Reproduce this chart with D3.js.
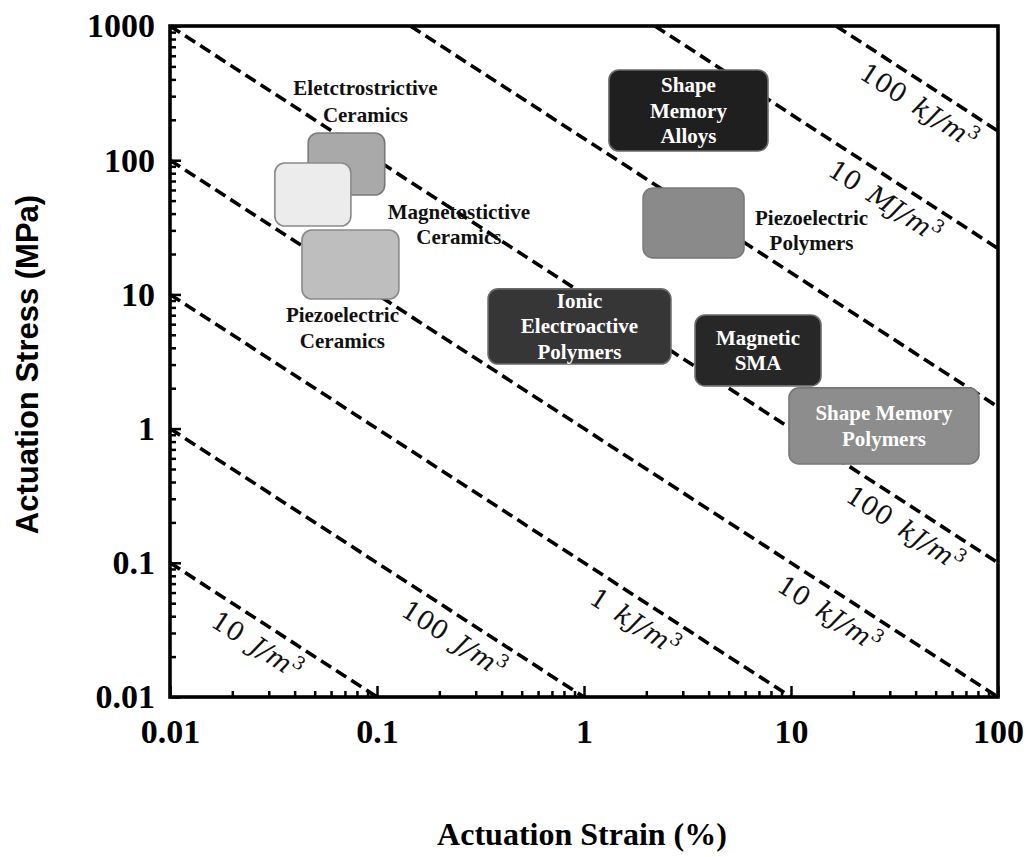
<!DOCTYPE html>
<html lang="en">
<head>
<meta charset="UTF-8">
<title>Actuation stress vs strain</title>
<script src="https://cdn.jsdelivr.net/npm/d3@7"></script>
<style>
  body { margin: 0; background: #fff; }
  svg { display: block; }
</style>
</head>
<body>
<script>
// Constant energy-density lines: stress (MPa) * strain (%) = C
const lineConst = [0.001, 0.01, 0.1, 1, 10, 145, 2200, 16500];
const lineNum   = ["10", "100", "1", "10", "100", null, "10", "100"];
const lineUnit  = ["J", "J", "kJ", "kJ", "kJ", null, "MJ", "kJ"];
const lineLabelAt = [0.030, 0.269, 2.01, 17.5, 40.6, null, 32.5, 47.4]; // strain where label sits

// Material regions (strain %, stress MPa)
const matNames  = ["Eletctrostrictive|Ceramics", "Magnetostictive|Ceramics", "Piezoelectric|Ceramics",
                   "Shape|Memory|Alloys", "Piezoelectric|Polymers", "Ionic|Electroactive|Polymers",
                   "Magnetic|SMA", "Shape Memory|Polymers"];
const strainMin = [0.0465, 0.0321, 0.0434, 1.32, 1.93, 0.344, 3.44, 9.78];
const strainMax = [0.109, 0.0748, 0.1276, 7.74, 5.93, 2.63, 13.96, 80.9];
const stressMin = [55, 32.3, 9.24, 117, 18.7, 3.03, 2.08, 0.545];
const stressMax = [159.5, 95.3, 30.2, 470, 62.1, 11.0, 7.03, 2.01];

const xTicks = [0.01, 0.1, 1, 10, 100];
const yTicks = [0.01, 0.1, 1, 10, 100, 1000];
const xTickLabels = ["0.01", "0.1", "1", "10", "100"];
const yTickLabels = ["0.01", "0.1", "1", "10", "100", "1000"];

const W = 1030, H = 857;
const pL = 170, pR = 998, pT = 26, pB = 697;

const x = d3.scaleLog().domain([0.01, 100]).range([pL, pR]);
const y = d3.scaleLog().domain([0.01, 1000]).range([pB, pT]);

const svg = d3.select("body").append("svg")
  .attr("width", W).attr("height", H);

svg.append("rect").attr("width", W).attr("height", H).attr("fill", "#fff");

// minor tick values (2..9 per decade)
const minor = v => {
  const out = [];
  for (let i = 0; i < v.length - 1; i++)
    for (let k = 2; k <= 9; k++) out.push(v[i] * k);
  return out;
};

// energy lines (behind boxes)
const lines = lineConst.map((c, i) => {
  const x0 = Math.max(0.01, c / 1000), x1 = Math.min(100, c / 0.01);
  return { c, i, pts: [[x0, c / x0], [x1, c / x1]] };
});

svg.append("g").selectAll("path")
  .data(lines)
  .join("path")
  .attr("d", d => d3.line().x(p => x(p[0])).y(p => y(p[1]))(d.pts))
  .attr("fill", "none")
  .attr("stroke", "#000")
  .attr("stroke-width", 3.6)
  .attr("stroke-dasharray", "12,6");

// labels along the lines
const ang = Math.atan2(y(0.1) - y(1), x(10) - x(1));
const angDeg = ang * 180 / Math.PI;
const off = 22;
const lab = svg.append("g")
  .attr("font-family", "'DejaVu Serif', serif")
  .attr("font-size", 26)
  .attr("fill", "#111");

lines.filter(d => lineNum[d.i] !== null).forEach(d => {
  const s = lineLabelAt[d.i];
  const px = x(s) - off * Math.sin(ang);
  const py = y(d.c / s) + off * Math.cos(ang);
  const t = lab.append("text")
    .attr("transform", `translate(${px},${py}) rotate(${angDeg})`)
    .attr("text-anchor", "middle")
    .attr("dy", "0.35em");
  t.append("tspan").text(lineNum[d.i] + "\u2002");
  t.append("tspan").attr("font-style", "italic").text(lineUnit[d.i] + "/m");
  t.append("tspan").attr("font-size", 18).attr("dy", "-0.6em").text("3");
});

// material boxes
const fills   = ["#a9a9a9", "#ececec", "#bebebe", "#1f1f1f", "#8a8a8a", "#363636", "#272727", "#8d8d8d"];
const strokes = ["#7a7a7a", "#8a8a8a", "#8a8a8a", "#6a6a6a", "#7a7a7a", "#6a6a6a", "#6a6a6a", "#777"];
const mats = matNames.map((n, i) => ({
  lines: n.split("|"), i,
  x0: x(strainMin[i]), x1: x(strainMax[i]),
  y0: y(stressMax[i]), y1: y(stressMin[i])
}));

svg.append("g").selectAll("rect")
  .data(mats)
  .join("rect")
  .attr("x", d => d.x0)
  .attr("y", d => d.y0)
  .attr("width", d => d.x1 - d.x0)
  .attr("height", d => d.y1 - d.y0)
  .attr("rx", 10)
  .attr("fill", d => fills[d.i])
  .attr("stroke", d => strokes[d.i])
  .attr("stroke-width", 1.6);

// label placement: inside dark boxes, outside for the light ones
const place = [
  { where: "out", dx: 19, dy: -38 },   // relative to box centre-x / top
  { where: "out", dx: 146, dy: 24 },
  { where: "out", dx: -8, dy: 23 },
  { where: "in" }, { where: "out", dx: 118, dy: 2 },
  { where: "in" }, { where: "in" }, { where: "in" }
];
const lh = 25.5;
const mt = svg.append("g")
  .attr("font-family", "'Liberation Serif', 'Times New Roman', serif")
  .attr("font-weight", "bold")
  .attr("font-size", 21)
  .attr("text-anchor", "middle");

mats.forEach(d => {
  const p = place[d.i];
  const cx = (d.x0 + d.x1) / 2, cy = (d.y0 + d.y1) / 2;
  const n = d.lines.length;
  d.lines.forEach((s, k) => {
    let tx, ty;
    if (p.where === "in") {
      tx = cx; ty = cy + 7 + (k - (n - 1) / 2) * lh;
    } else if (d.i === 0) {
      tx = cx + p.dx; ty = d.y0 + p.dy + k * 27;
    } else if (d.i === 2) {
      tx = cx + p.dx; ty = d.y1 + p.dy + k * 26;
    } else {
      tx = cx + p.dx; ty = cy + p.dy + k * 25;
    }
    mt.append("text")
      .attr("x", tx).attr("y", ty)
      .attr("fill", p.where === "in" ? "#fff" : "#111")
      .text(s);
  });
});

// axes
const tickFont = g => g.selectAll("text")
  .attr("font-family", "'Liberation Serif', 'Times New Roman', serif")
  .attr("font-weight", "bold")
  .attr("font-size", 34)
  .attr("fill", "#000");

svg.append("g")
  .attr("transform", `translate(0,${pB})`)
  .call(d3.axisBottom(x).tickValues(minor(xTicks)).tickSize(-6).tickFormat(""))
  .call(g => g.select(".domain").remove())
  .call(g => g.selectAll("line").attr("stroke-width", 2.5));

svg.append("g")
  .attr("transform", `translate(0,${pB})`)
  .call(d3.axisBottom(x).tickValues(xTicks).tickSize(-11).tickPadding(22)
    .tickFormat((d, i) => xTickLabels[i]))
  .call(g => g.select(".domain").remove())
  .call(g => g.selectAll("line").attr("stroke-width", 2.5))
  .call(tickFont);

svg.append("g")
  .attr("transform", `translate(${pL},0)`)
  .call(d3.axisLeft(y).tickValues(minor(yTicks)).tickSize(-6).tickFormat(""))
  .call(g => g.select(".domain").remove())
  .call(g => g.selectAll("line").attr("stroke-width", 2.5));

svg.append("g")
  .attr("transform", `translate(${pL},0)`)
  .call(d3.axisLeft(y).tickValues(yTicks).tickSize(-11).tickPadding(15)
    .tickFormat((d, i) => yTickLabels[i]))
  .call(g => g.select(".domain").remove())
  .call(g => g.selectAll("line").attr("stroke-width", 2.5))
  .call(tickFont);

// frame
svg.append("rect")
  .attr("x", pL).attr("y", pT)
  .attr("width", pR - pL).attr("height", pB - pT)
  .attr("fill", "none")
  .attr("stroke", "#000")
  .attr("stroke-width", 3.6);

// axis titles
svg.append("text")
  .attr("x", (pL + pR) / 2 - 2).attr("y", 845)
  .attr("text-anchor", "middle")
  .attr("font-family", "'Liberation Serif', 'Times New Roman', serif")
  .attr("font-weight", "bold")
  .attr("font-size", 32)
  .text("Actuation Strain (%)");

svg.append("text")
  .attr("transform", `translate(38,${(pT + pB) / 2 + 3}) rotate(-90)`)
  .attr("text-anchor", "middle")
  .attr("font-family", "'Liberation Sans', Arial, sans-serif")
  .attr("font-weight", "bold")
  .attr("font-size", 31)
  .text("Actuation Stress (MPa)");
</script>
</body>
</html>
